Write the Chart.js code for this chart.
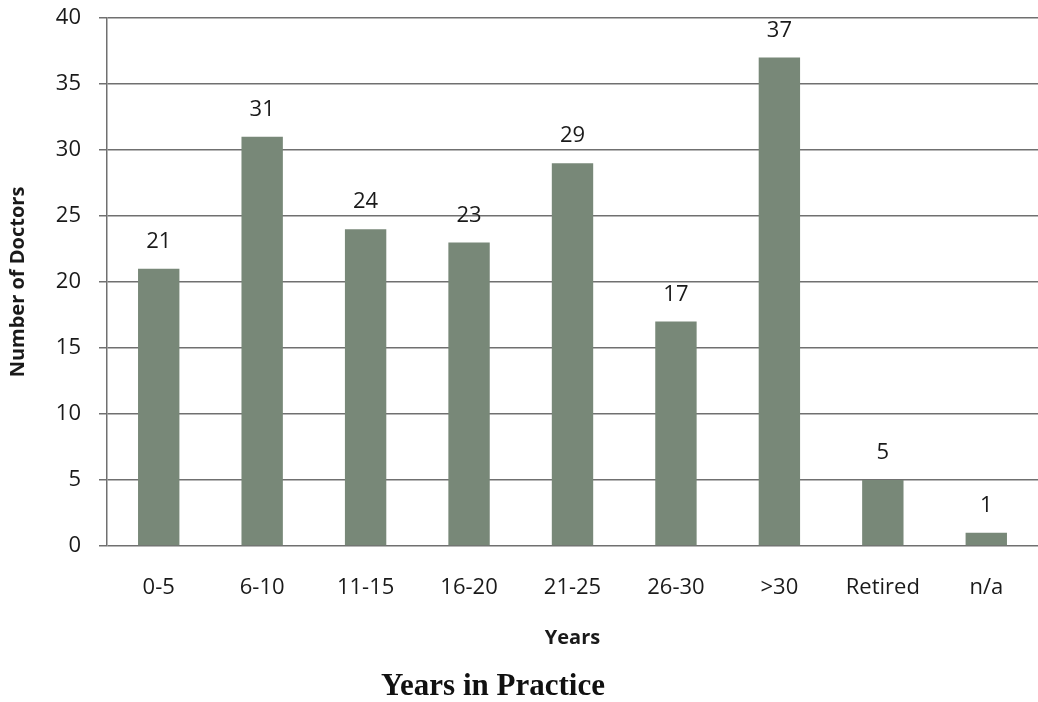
<!DOCTYPE html>
<html>
<head>
<meta charset="utf-8">
<script src="https://cdn.jsdelivr.net/npm/chart.js@4/dist/chart.umd.min.js"></script>
<style>
  html, body { margin: 0; padding: 0; background: #fff; }
  #wrap { width: 1038px; height: 702px; position: relative; }
</style>
</head>
<body>
<div id="wrap"><canvas id="chart"></canvas></div>
<script>
const categories = ['0-5', '6-10', '11-15', '16-20', '21-25', '26-30', '>30', 'Retired', 'n/a'];
const doctors = [21, 31, 24, 23, 29, 17, 37, 5, 1];
const yTicks = [0, 5, 10, 15, 20, 25, 30, 35, 40];
const caption = 'Years in Practice';

const barColor = '#788878';
const gridColor = '#707070';
const textColor = '#1a1a1a';
const sansFont = "'Open Sans', 'Liberation Sans', sans-serif";

// numbers above each bar
const valueLabels = {
    id: 'valueLabels',
    afterDatasetsDraw(chart) {
        const ctx = chart.ctx;
        const meta = chart.getDatasetMeta(0);
        ctx.save();
        ctx.font = `22px ${sansFont}`;
        ctx.fillStyle = textColor;
        ctx.textAlign = 'center';
        ctx.textBaseline = 'middle';
        meta.data.forEach((bar, i) => {
            ctx.fillText(String(doctors[i]), bar.x, bar.y - 27);
        });
        ctx.restore();
    }
};

// serif caption under the whole chart
const captionText = {
    id: 'captionText',
    afterDraw(chart) {
        const ctx = chart.ctx;
        ctx.save();
        ctx.font = "bold 31px 'Liberation Serif', 'Times New Roman', serif";
        ctx.fillStyle = '#111';
        ctx.textAlign = 'center';
        ctx.textBaseline = 'middle';
        ctx.fillText(caption, 493, 687);
        ctx.restore();
    }
};

let ctx = document.getElementById('chart').getContext('2d');
let chartObject = new Chart(ctx, {
    type: 'bar',
    data: {
        labels: categories,
        datasets: [{
            label: 'Number of Doctors',
            data: doctors,
            backgroundColor: barColor,
            barPercentage: 0.4,
            categoryPercentage: 1.0
        }]
    },
    options: {
        responsive: true,
        maintainAspectRatio: false,
        animation: false,
        layout: { padding: { top: 0, right: 0, left: 4, bottom: 50 } },
        plugins: {
            legend: { display: false },
            tooltip: { enabled: false }
        },
        scales: {
            x: {
                afterFit: scale => { scale.height = 106; },
                grid: { display: false },
                border: { display: false },
                ticks: { color: textColor, font: { family: sansFont, size: 22 }, padding: 21, maxRotation: 0 },
                title: {
                    display: true,
                    text: 'Years',
                    color: textColor,
                    font: { family: sansFont, size: 20, weight: 'bold' },
                    padding: { top: 0, bottom: 2 }
                }
            },
            y: {
                min: 0,
                max: 40,
                afterFit: scale => {
                    scale.width = 103;
                    scale.paddingTop = 18;
                    scale.paddingBottom = 0;
                },
                afterBuildTicks: axis => { axis.ticks = yTicks.map(v => ({ value: v })); },
                grid: { color: gridColor, lineWidth: 1.5, tickLength: 8 },
                border: { display: true, color: gridColor, width: 1.5 },
                ticks: { color: textColor, font: { family: sansFont, size: 22 }, padding: 18 },
                title: {
                    display: true,
                    text: 'Number of Doctors',
                    color: textColor,
                    font: { family: sansFont, size: 20, weight: 'bold' },
                    padding: { top: 2, bottom: 0 }
                }
            }
        }
    },
    plugins: [valueLabels, captionText]
});
</script>
</body>
</html>
